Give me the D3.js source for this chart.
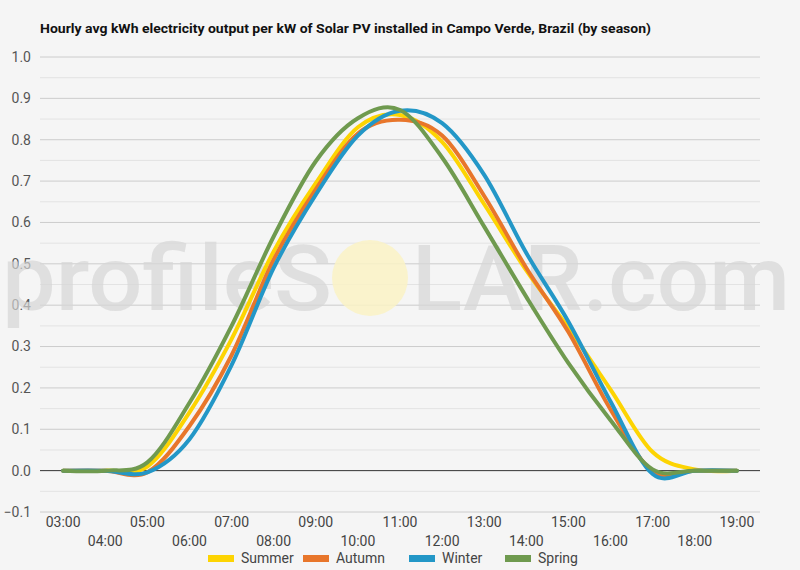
<!DOCTYPE html>
<html>
<head>
<meta charset="utf-8">
<script src="https://cdn.jsdelivr.net/npm/d3@7"></script>
<style>
  body { margin: 0; background: #f5f5f5; }
  svg { display: block; font-family: Roboto, 'Noto Sans', sans-serif; }
</style>
</head>
<body>
<div id="chart"></div>
<script>
// chart values
const hours = [3, 4, 5, 6, 7, 8, 9, 10, 11, 12, 13, 14, 15, 16, 17, 18, 19]
const hourLabels = ['03:00', '04:00', '05:00', '06:00', '07:00', '08:00', '09:00', '10:00',
  '11:00', '12:00', '13:00', '14:00', '15:00', '16:00', '17:00', '18:00', '19:00']
const seasons = ['Summer', 'Autumn', 'Winter', 'Spring']
const summer = [0, 0, 0.01, 0.141, 0.318, 0.53, 0.695, 0.83, 0.86, 0.795, 0.644, 0.484, 0.345, 0.196, 0.045, 0.003, 0]
const autumn = [0, 0, -0.004, 0.108, 0.279, 0.51, 0.68, 0.815, 0.848, 0.81, 0.664, 0.49, 0.335, 0.148, -0.002, 0, 0]
const winter = [0, 0, -0.004, 0.076, 0.255, 0.49, 0.667, 0.81, 0.87, 0.84, 0.715, 0.526, 0.36, 0.167, -0.008, 0, 0]
const spring = [0, 0, 0.02, 0.164, 0.35, 0.566, 0.748, 0.852, 0.872, 0.757, 0.59, 0.42, 0.26, 0.122, 0.003, 0, 0]
const yTicks = [-0.1, 0, 0.1, 0.2, 0.3, 0.4, 0.5, 0.6, 0.7, 0.8, 0.9, 1.0]
const colors = ['#fdd402', '#e8762b', '#2397c7', '#6f9a4f']
const title = 'Hourly avg kWh electricity output per kW of Solar PV installed in Campo Verde, Brazil (by season)'

const width = 800
const height = 570
const series = [summer, autumn, winter, spring]

const svg = d3.select('#chart')
  .append('svg')
  .attr('width', width)
  .attr('height', height)

svg.append('rect')
  .attr('width', width)
  .attr('height', height)
  .attr('fill', '#f5f5f5')

const x = d3.scaleLinear().domain([2.45, 19.55]).range([40, 760])
const y = d3.scaleLinear().domain([-0.1, 1.0]).range([512, 57])

// title
svg.append('text')
  .attr('x', 40)
  .attr('y', 33)
  .attr('font-size', 13.5)
  .attr('font-weight', 'bold')
  .attr('fill', '#111')
  .attr('textLength', 611)
  .attr('lengthAdjust', 'spacingAndGlyphs')
  .text(title)

// minor and major gridlines
const minor = d3.range(-0.05, 1.0, 0.1)
svg.append('g').selectAll('line')
  .data(minor).join('line')
  .attr('x1', 40).attr('x2', 760)
  .attr('y1', d => y(d)).attr('y2', d => y(d))
  .attr('stroke', '#e3e3e3')
  .attr('stroke-width', 1)

svg.append('g').selectAll('line')
  .data(yTicks.filter(d => d !== 0)).join('line')
  .attr('x1', 40).attr('x2', 760)
  .attr('y1', d => y(d)).attr('y2', d => y(d))
  .attr('stroke', '#cccccc')
  .attr('stroke-width', 1)

// y labels
svg.append('g').selectAll('text')
  .data(yTicks).join('text')
  .attr('x', 31)
  .attr('y', d => y(d))
  .attr('dy', '0.35em')
  .attr('text-anchor', 'end')
  .attr('font-size', 14)
  .attr('fill', '#555')
  .text(d => d3.format('.1f')(d))

// watermark
const wm = svg.append('g').attr('opacity', 0.85)
wm.append('circle')
  .attr('cx', 370).attr('cy', 278).attr('r', 38)
  .attr('fill', '#fbf3c6')
wm.append('text')
  .attr('x', 2).attr('y', 310)
  .attr('font-size', 90)
  .attr('font-weight', 500)
  .attr('fill', '#d6d6d6')
  .attr('fill-opacity', 0.8)
  .attr('textLength', 330)
  .attr('lengthAdjust', 'spacingAndGlyphs')
  .text('profileS')
wm.append('text')
  .attr('x', 412).attr('y', 310)
  .attr('font-size', 90)
  .attr('font-weight', 500)
  .attr('fill', '#d6d6d6')
  .attr('fill-opacity', 0.8)
  .attr('textLength', 378)
  .attr('lengthAdjust', 'spacingAndGlyphs')
  .text('LAR.com')

// zero line
svg.append('line')
  .attr('x1', 40).attr('x2', 760)
  .attr('y1', y(0)).attr('y2', y(0))
  .attr('stroke', '#333')
  .attr('stroke-width', 1)

// x labels, alternating rows
svg.append('g').selectAll('text')
  .data(hours).join('text')
  .attr('x', d => x(d))
  .attr('y', (d, i) => i % 2 === 0 ? 527 : 546)
  .attr('text-anchor', 'middle')
  .attr('font-size', 14)
  .attr('fill', '#444')
  .text((d, i) => hourLabels[i])

// lines
const line = d3.line()
  .x((d, i) => x(hours[i]))
  .y(d => y(d))
  .curve(d3.curveCardinal.tension(0))

svg.append('g').selectAll('path')
  .data(series).join('path')
  .attr('d', d => line(d))
  .attr('fill', 'none')
  .attr('stroke', (d, i) => colors[i])
  .attr('stroke-width', 4)
  .attr('stroke-linejoin', 'round')
  .attr('stroke-linecap', 'round')

// legend
const legendX = [208, 303, 409, 505]
const legend = svg.append('g').selectAll('g')
  .data(seasons).join('g')
  .attr('transform', (d, i) => 'translate(' + legendX[i] + ',558)')
legend.append('rect')
  .attr('x', 0).attr('y', -3)
  .attr('width', 26).attr('height', 7)
  .attr('fill', (d, i) => colors[i])
legend.append('text')
  .attr('x', 33)
  .attr('dy', '0.35em')
  .attr('font-size', 14)
  .attr('fill', '#444')
  .text(d => d)
</script>
</body>
</html>
